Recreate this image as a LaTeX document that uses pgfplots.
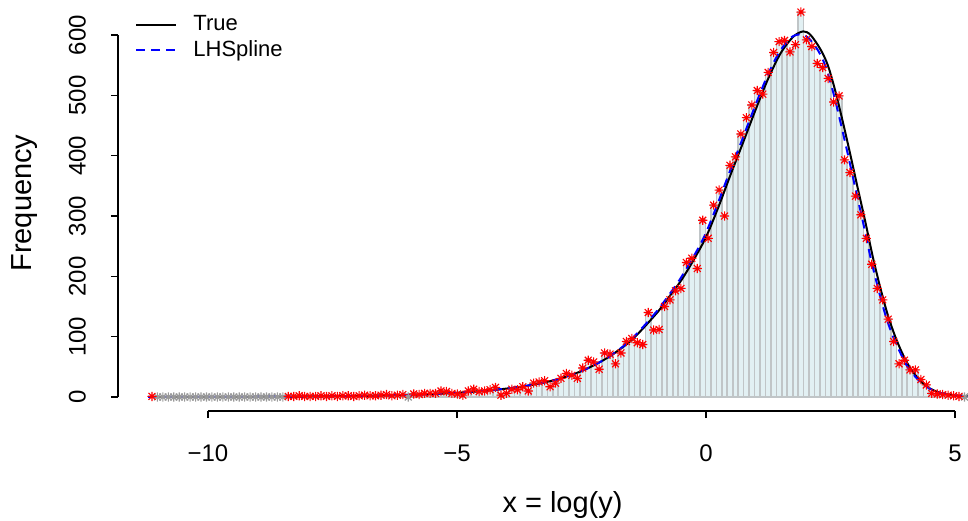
\documentclass[border=0pt]{standalone}
\usepackage{fontspec}
\setmainfont{Liberation Sans}
\usepackage{pgfplots}
\usepackage{pgfplotstable}
\pgfplotsset{compat=1.18}

\pgfdeclareplotmark{rast}{%
  \pgfpathmoveto{\pgfqpoint{-\pgfplotmarksize}{0pt}}\pgfpathlineto{\pgfqpoint{\pgfplotmarksize}{0pt}}%
  \pgfpathmoveto{\pgfqpoint{0pt}{-\pgfplotmarksize}}\pgfpathlineto{\pgfqpoint{0pt}{\pgfplotmarksize}}%
  \pgfpathmoveto{\pgfqpoint{-0.75\pgfplotmarksize}{-0.75\pgfplotmarksize}}\pgfpathlineto{\pgfqpoint{0.75\pgfplotmarksize}{0.75\pgfplotmarksize}}%
  \pgfpathmoveto{\pgfqpoint{-0.75\pgfplotmarksize}{0.75\pgfplotmarksize}}\pgfpathlineto{\pgfqpoint{0.75\pgfplotmarksize}{-0.75\pgfplotmarksize}}%
  \pgfusepathqstroke}

\definecolor{barfill}{RGB}{226,240,243}
\definecolor{barline}{RGB}{192,197,199}

\pgfplotstableread{
x y
-11.1250 1
-11.0155 0
-10.9060 0
-10.7965 0
-10.6870 0
-10.5775 0
-10.4680 0
-10.3585 0
-10.2490 0
-10.1395 0
-10.0300 0
-9.9205 0
-9.8110 0
-9.7015 0
-9.5920 0
-9.4825 0
-9.3730 0
-9.2635 0
-9.1540 0
-9.0445 0
-8.9350 0
-8.8255 0
-8.7160 0
-8.6065 0
-8.4970 0
-8.3875 1
-8.2780 1
-8.1685 2
-8.0590 1
-7.9495 1
-7.8400 1
-7.7305 2
-7.6210 1
-7.5115 2
-7.4020 1
-7.2925 2
-7.1830 2
-7.0735 1
-6.9640 2
-6.8545 3
-6.7450 2
-6.6355 2
-6.5260 3
-6.4165 4
-6.3070 2
-6.1975 3
-6.0880 4
-5.9785 0
-5.8690 5
-5.7595 4
-5.6500 6
-5.5405 6
-5.4310 6
-5.3215 10
-5.2120 9
-5.1025 6
-4.9930 5
-4.8835 3
-4.7740 10
-4.6645 13
-4.5550 9
-4.4455 10
-4.3360 12
-4.2265 16
-4.1170 3
-4.0075 6
-3.8980 13
-3.7885 12
-3.6790 17
-3.5695 10
-3.4600 23
-3.3505 25
-3.2410 27
-3.1315 17
-3.0220 23
-2.9125 31
-2.8030 39
-2.6935 36
-2.5840 31
-2.4745 48
-2.3650 61
-2.2555 58
-2.1460 46
-2.0365 73
-1.9270 71
-1.8175 55
-1.7080 73
-1.5985 92
-1.4890 97
-1.3795 90
-1.2700 87
-1.1605 140
-1.0510 111
-0.9415 112
-0.8320 150
-0.7225 161
-0.6130 176
-0.5035 180
-0.3940 223
-0.2845 230
-0.1750 213
-0.0655 293
0.0440 263
0.1535 318
0.2630 343
0.3725 300
0.4820 384
0.5915 398
0.7010 436
0.8105 463
0.9200 484
1.0295 508
1.1390 502
1.2485 538
1.3580 571
1.4675 589
1.5770 591
1.6865 572
1.7960 584
1.9055 638
2.0150 592
2.1245 581
2.2340 553
2.3435 546
2.4530 528
2.5625 489
2.6720 499
2.7815 393
2.8910 372
3.0005 333
3.1100 302
3.2195 263
3.3290 220
3.4385 180
3.5480 161
3.6575 129
3.7670 92
3.8765 55
3.9860 61
4.0955 45
4.2050 45
4.3145 29
4.4240 20
4.5335 6
4.6430 5
4.7525 4
4.8620 3
4.9715 2
5.0810 1
5.1905 0
}\histtab

\pgfplotstableread{
x y
-11.20 0.10
-10.50 0.17
-10.00 0.22
-9.50 0.32
-9.00 0.45
-8.50 0.64
-8.00 0.90
-7.50 1.25
-7.00 1.75
-6.50 2.5
-6.00 3.5
-5.50 5.0
-5.00 7.0
-4.50 9.9
-4.00 14
-3.50 20
-3.00 29
-2.50 43
-2.00 64
-1.50 94
-1.00 138
-0.75 165
-0.50 193
-0.25 227
0.00 265
0.25 315
0.50 370
0.75 423
1.00 477
1.25 528
1.50 570
1.75 597
1.95 606
2.10 600
2.30 576
2.45 549
2.60 506
2.75 455
2.90 401
3.05 345
3.20 290
3.35 232
3.50 181
3.65 136
3.80 100
3.95 71
4.10 48
4.30 27
4.50 14
4.70 7
5.00 2.5
5.26 0.9
}\truetab

\pgfplotstableread{
x y
-11.20 0.10
-10.50 0.17
-10.00 0.22
-9.50 0.32
-9.00 0.45
-8.50 0.64
-8.00 0.90
-7.50 1.25
-7.00 1.75
-6.50 2.5
-6.00 3.5
-5.50 5.0
-5.00 7.0
-4.50 9.9
-4.00 14
-3.50 20
-3.00 29
-2.50 43
-2.00 64
-1.52 94
-1.03 138
-0.78 165
-0.54 193
-0.29 227
-0.04 265
0.21 315
0.46 370
0.71 423
0.96 477
1.21 528
1.46 570
1.71 596
1.91 601
2.06 595
2.26 573
2.41 546
2.56 503
2.71 452
2.86 398
3.01 342
3.16 287
3.31 229
3.46 179
3.61 134
3.76 99
3.92 70
4.07 47
4.28 27
4.49 14
4.70 7
5.00 2.5
5.26 0.9
}\lhtab

\begin{document}
\begin{tikzpicture}
\useasboundingbox (-59pt,-54.5pt) rectangle (425pt,205.5pt);
\begin{axis}[
  scale only axis, width=425pt, height=205.5pt,
  xmin=-11.807, xmax=5.261, ymin=-23.2, ymax=658.0,
  clip=false,
  axis lines*=left, axis line style={draw=none},
  tick align=outside, major tick length=3.5pt,
  tick style={black, line width=0.8pt},
  xtick={-10,-5,0,5}, xticklabels={−10,−5,0,5},
  ytick={0,100,200,300,400,500,600},
  /pgf/number format/assume math mode=true,
  tick label style={font=\fontsize{12}{14}\selectfont},
  xticklabel style={yshift=-10pt},
  yticklabel style={xshift=-9pt, rotate=90, anchor=south},
  xlabel={x = log(y)}, ylabel={Frequency},
  every axis x label/.style={at={(axis description cs:0.523,-0.2287)}, anchor=center, font=\fontsize{14.5}{17}\selectfont},
  every axis y label/.style={at={(axis description cs:-0.1094,0.506)}, anchor=center, rotate=90, font=\fontsize{14.5}{17}\selectfont},
  legend style={at={(axis description cs:0.02,0.973)}, anchor=north west, draw=none, fill=none,
    font=\fontsize{11}{13}\selectfont, inner sep=0pt, row sep=-0.5pt,
    /tikz/every odd column/.append style={column sep=6pt}},
  legend cell align=left,
  legend image code/.code={\draw[#1] (0pt,0pt) -- (20pt,0pt);},
]
\addplot[ybar, bar width=0.1095, bar shift=0pt, fill=barfill, draw=barline, line width=0.8pt, forget plot] table[x=x,y=y] {\histtab};
\addplot[only marks, mark=rast, mark size=2.3pt, draw=gray!80, line width=0.55pt, restrict y to domain=-1:0.5, forget plot] table[x=x,y=y] {\histtab};
\addplot[only marks, mark=rast, mark size=2.3pt, draw=red, line width=0.55pt, restrict y to domain=0.5:1000, forget plot] table[x=x,y=y] {\histtab};
\addplot[black, line width=1pt, smooth, no marks] table[x=x,y=y] {\truetab};
\addlegendentry{True}
\addplot[blue, line width=1pt, smooth, no marks, dash pattern=on 4.5pt off 3pt] table[x=x,y=y] {\lhtab};
\addlegendentry{LHSpline}
\draw[black, line width=0.8pt] (axis cs:-10,-23.2) -- (axis cs:5,-23.2);
\draw[black, line width=0.8pt] (axis cs:-11.807,0) -- (axis cs:-11.807,600);
\end{axis}
\end{tikzpicture}
\end{document}
